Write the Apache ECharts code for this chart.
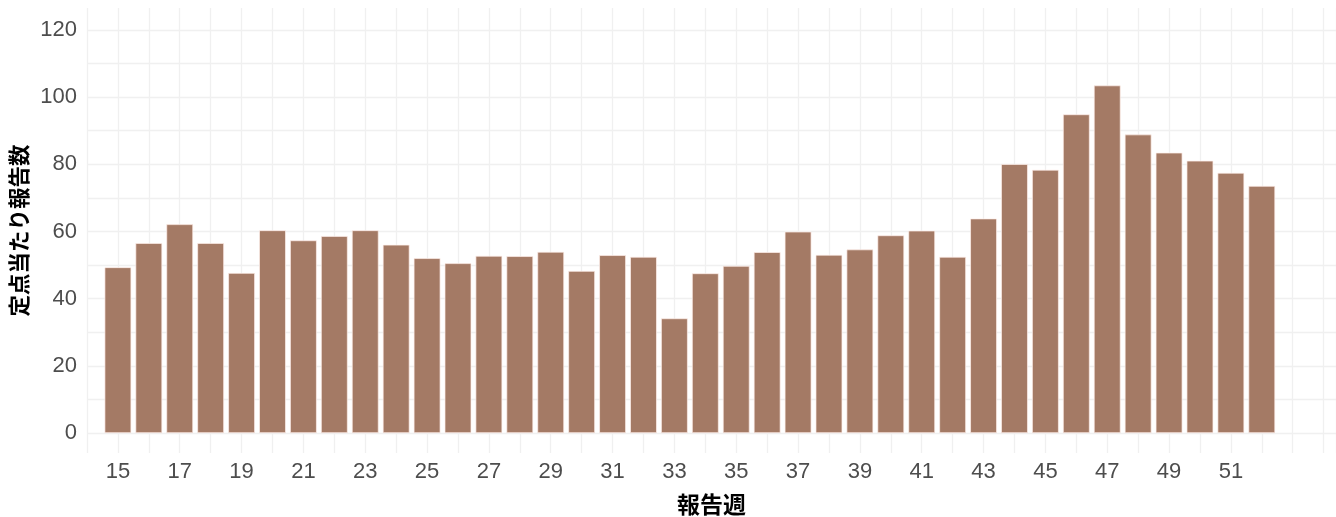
<!DOCTYPE html>
<html>
<head>
<meta charset="utf-8">
<script src="https://cdn.jsdelivr.net/npm/echarts@6/dist/echarts.min.js"></script>
<style>html,body{margin:0;padding:0;background:#fff;}#c{width:1336px;height:517px;}</style>
</head>
<body>
<div id="c"></div>
<script>
const weeks = [15,16,17,18,19,20,21,22,23,24,25,26,27,28,29,30,31,32,33,34,35,36,37,38,39,40,41,42,43,44,45,46,47,48,49,50,51,52];
const values = [49.4,56.6,62.2,56.6,47.7,60.4,57.4,58.7,60.4,56.1,52.1,50.6,52.8,52.7,54.0,48.3,53.0,52.5,34.2,47.6,49.8,53.9,60.0,53.1,54.7,58.9,60.3,52.5,63.9,80.1,78.4,94.9,103.5,88.9,83.5,81.1,77.5,73.6];
const yTickLabels = [0,20,40,60,80,100,120];
const yGridValues = [0,10,20,30,40,50,60,70,80,90,100,110,120];
const xAxisName = '報告週';
const yAxisName = '定点当たり報告数';

const chart = echarts.init(document.getElementById('c'));
chart.setOption({
  animation: false,
  grid: { left: 87, right: 0, top: 8, bottom: 64, outerBoundsMode: 'none', containLabel: false },
  xAxis: {
    type: 'value', min: 14, max: 54.4, interval: 1,
    name: xAxisName, nameLocation: 'middle', nameGap: 40,
    nameTextStyle: { fontFamily: 'Noto Sans CJK JP', fontWeight: 'bold', fontSize: 23, color: '#000' },
    axisLine: { show: false }, axisTick: { show: false },
    axisLabel: {
      margin: 8, fontFamily: 'Liberation Sans', fontSize: 22, color: '#4d4d4d',
      formatter: v => (v >= 15 && v <= 51 && v % 2 === 1) ? String(v) : ''
    },
    splitLine: { show: true, lineStyle: { color: '#f0f0f0', width: 1.3 } }
  },
  yAxis: {
    type: 'value', min: -5.9, max: 126.5,
    name: yAxisName, nameLocation: 'middle', nameGap: 57, nameRotate: 90,
    nameTextStyle: { fontFamily: 'Noto Sans CJK JP', fontWeight: 'bold', fontSize: 21.5, color: '#000' },
    axisLine: { show: false },
    axisTick: { show: false, customValues: yGridValues },
    axisLabel: { customValues: yTickLabels, margin: 10, fontFamily: 'Liberation Sans', fontSize: 22, color: '#4d4d4d' },
    splitLine: { show: true, lineStyle: { color: '#f0f0f0', width: 1.3 } }
  },
  series: [{
    type: 'bar',
    data: weeks.map((w, i) => [w, values[i]]),
    barWidth: 27,
    itemStyle: { color: '#a47a65', borderColor: 'rgba(255,240,235,0.7)', borderWidth: 1 }
  }]
});
</script>
</body>
</html>
